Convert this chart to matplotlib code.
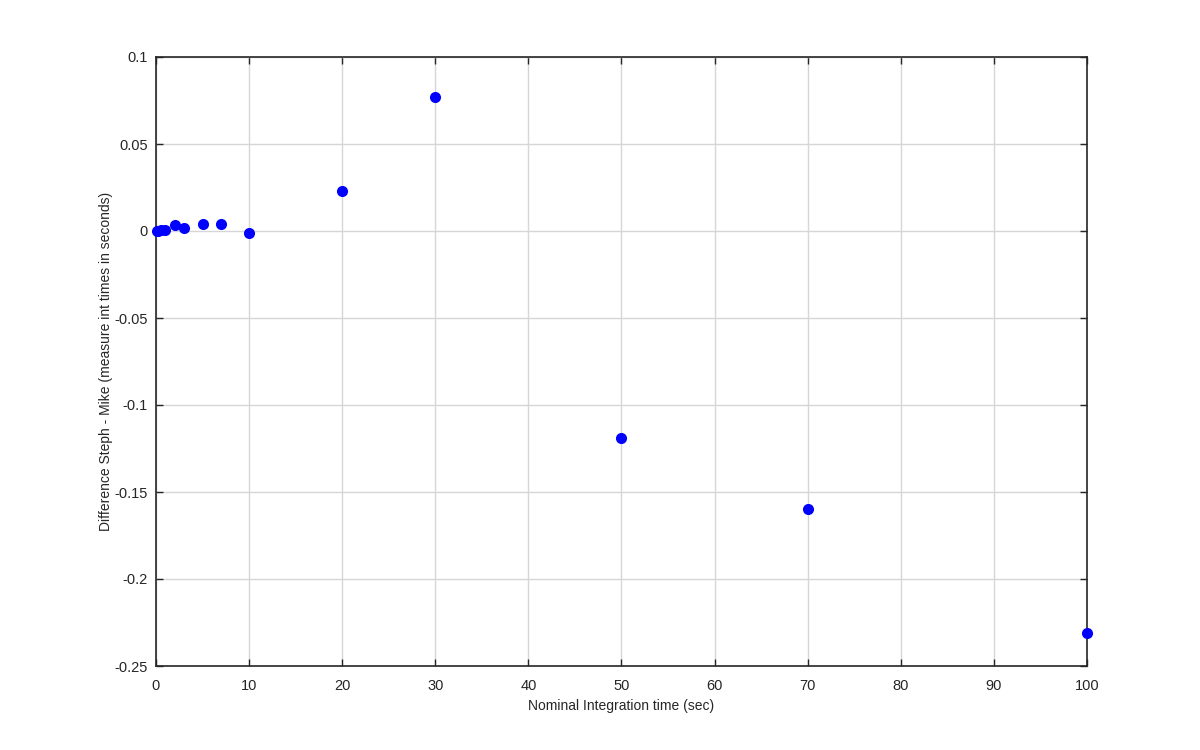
import numpy as np
import matplotlib.pyplot as plt

plt.rcParams['font.family'] = ['Liberation Sans', 'DejaVu Sans']

# Nominal integration times and measured differences
int_time = [0.1, 0.2, 0.5, 1, 2, 3, 5, 7, 10, 20, 30, 50, 70, 100]
diff = [0.0002, 0.0, 0.0003, 0.0006, 0.0034, 0.0016, 0.004, 0.004,
        -0.0013, 0.023, 0.077, -0.119, -0.160, -0.231]

fig = plt.figure(figsize=(12, 7.5), dpi=100)
ax = fig.add_axes([0.13, 0.112, 0.7758, 0.812])

ax.plot(int_time, diff, 'o', color='#0000ff', markersize=8, markeredgewidth=0,
        clip_on=False, zorder=3)

ax.set_xlim(0, 100)
ax.set_ylim(-0.25, 0.1)
ax.set_xticks(np.arange(0, 101, 10))
ax.set_yticks([-0.25, -0.2, -0.15, -0.1, -0.05, 0, 0.05, 0.1])
ax.set_yticklabels(['-0.25', '-0.2', '-0.15', '-0.1', '-0.05', '0', '0.05', '0.1'])
ax.grid(True, color='#d6d6d6', linewidth=1)
ax.set_axisbelow(True)
ax.tick_params(direction='in', top=True, right=True, length=5, width=1,
               colors='#262626', labelsize=10.5, labelcolor='#262626')
ax.tick_params(axis='x', pad=9)
ax.tick_params(axis='y', pad=6)
for s in ax.spines.values():
    s.set_color('#262626')
    s.set_linewidth(1.2)

ax.set_xlabel('Nominal Integration time (sec)', fontsize=10, color='#262626', labelpad=5)
ax.set_ylabel('Difference Steph - Mike (measure int times in seconds)', fontsize=10,
              color='#262626', labelpad=1)

fig.savefig('out.png')
